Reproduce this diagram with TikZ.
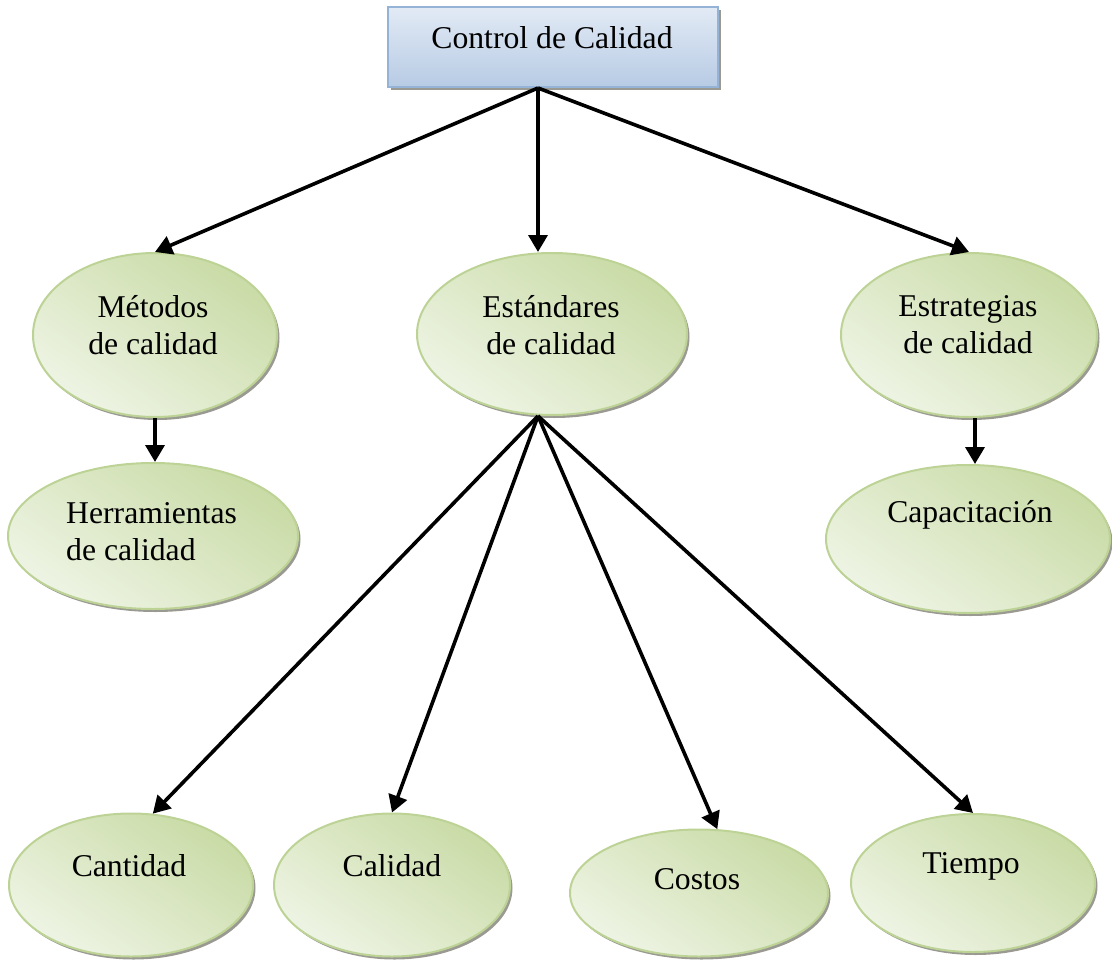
\documentclass[tikz,border=0pt]{standalone}
\usepackage{fontspec}
\setmainfont{Liberation Serif}
\usetikzlibrary{arrows.meta,shapes.geometric,shadows}

\definecolor{boxtop}{HTML}{E2EAF5}
\definecolor{boxbottom}{HTML}{B7CBE4}
\definecolor{boxline}{HTML}{95B3D7}
\definecolor{bublight}{HTML}{EEF4E4}
\definecolor{bubdark}{HTML}{C9DBA6}
\definecolor{bubline}{HTML}{BDD396}
\definecolor{rimgray}{HTML}{9A9A92}

\tikzset{
  topbox/.style={rectangle, draw=boxline, line width=2pt,
    top color=boxtop, bottom color=boxbottom,
    general shadow={shadow xshift=3pt, shadow yshift=-3pt, fill=rimgray}},
  bubble/.style={ellipse, draw=bubline, line width=2pt, inner sep=0pt,
    top color=bubdark, bottom color=bublight, shading angle=-35,
    general shadow={shadow xshift=2.5pt, shadow yshift=-3pt, fill=rimgray}},
  lbl/.style={font=\fontsize{31.7}{37}\selectfont, align=center, inner sep=0pt},
  arr/.style={line width=3.6pt, -{Triangle[length=17pt,width=19pt]}}
}

\begin{document}
\begin{tikzpicture}[x=1pt,y=-1pt]
\useasboundingbox (0,0) rectangle (1112,961);

% root box
\node[topbox, minimum width=330pt, minimum height=80pt] (ctrl) at (553,47) {};
\node[lbl] (ctrlT) at (552,38) {Control de Calidad};

% second level
\node[bubble, minimum width=244pt, minimum height=164pt] (met) at (155,335) {};
\node[lbl] (metT) at (153,325) {Métodos\\de calidad};

\node[bubble, minimum width=270pt, minimum height=162pt] (estd) at (552,334) {};
\node[lbl] (estdT) at (551,325) {Estándares\\de calidad};

\node[bubble, minimum width=256pt, minimum height=164pt] (estr) at (969,335) {};
\node[lbl] (estrT) at (968,325) {Estrategias\\de calidad};

% third level, sides
\node[bubble, minimum width=290pt, minimum height=146pt] (herr) at (153,536) {};
\node[lbl, align=left, anchor=west] (herrT) at (66,532) {Herramientas\\de calidad};

\node[bubble, minimum width=284pt, minimum height=148pt] (capa) at (968,539) {};
\node[lbl] (capaT) at (970,515) {Capacitación};

% bottom row
\node[bubble, minimum width=244pt, minimum height=143pt] (cant) at (131,885) {};
\node[lbl] (cantT) at (129,866) {Cantidad};

\node[bubble, minimum width=236pt, minimum height=143pt] (cal) at (392,885) {};
\node[lbl] (calT) at (392,866) {Calidad};

\node[bubble, minimum width=258pt, minimum height=127pt] (cost) at (699,893) {};
\node[lbl] (costT) at (697,879) {Costos};

\node[bubble, minimum width=244pt, minimum height=138pt] (tiem) at (973,883) {};
\node[lbl] (tiemT) at (971,866) {Tiempo};

% connectors
\draw[arr] ([xshift=-15pt]ctrl.south) -- (met.north);
\draw[arr] ([xshift=-15pt]ctrl.south) -- ([xshift=-14pt]estd.north);
\draw[arr] ([xshift=-15pt]ctrl.south) -- (estr.north);

\draw[arr] (met.south) -- (met.south |- herr.north);
\draw[arr] ([xshift=6pt]estr.south) -- ([xshift=6pt]estr.south |- capa.north);

\draw[arr] ([xshift=-14pt]estd.south) -- (cant.73);
\draw[arr] ([xshift=-14pt]estd.south) -- (cal.north);
\draw[arr] ([xshift=-14pt]estd.south) -- (cost.74);
\draw[arr] ([xshift=-14pt]estd.south) -- (tiem.north);
\end{tikzpicture}
\end{document}
